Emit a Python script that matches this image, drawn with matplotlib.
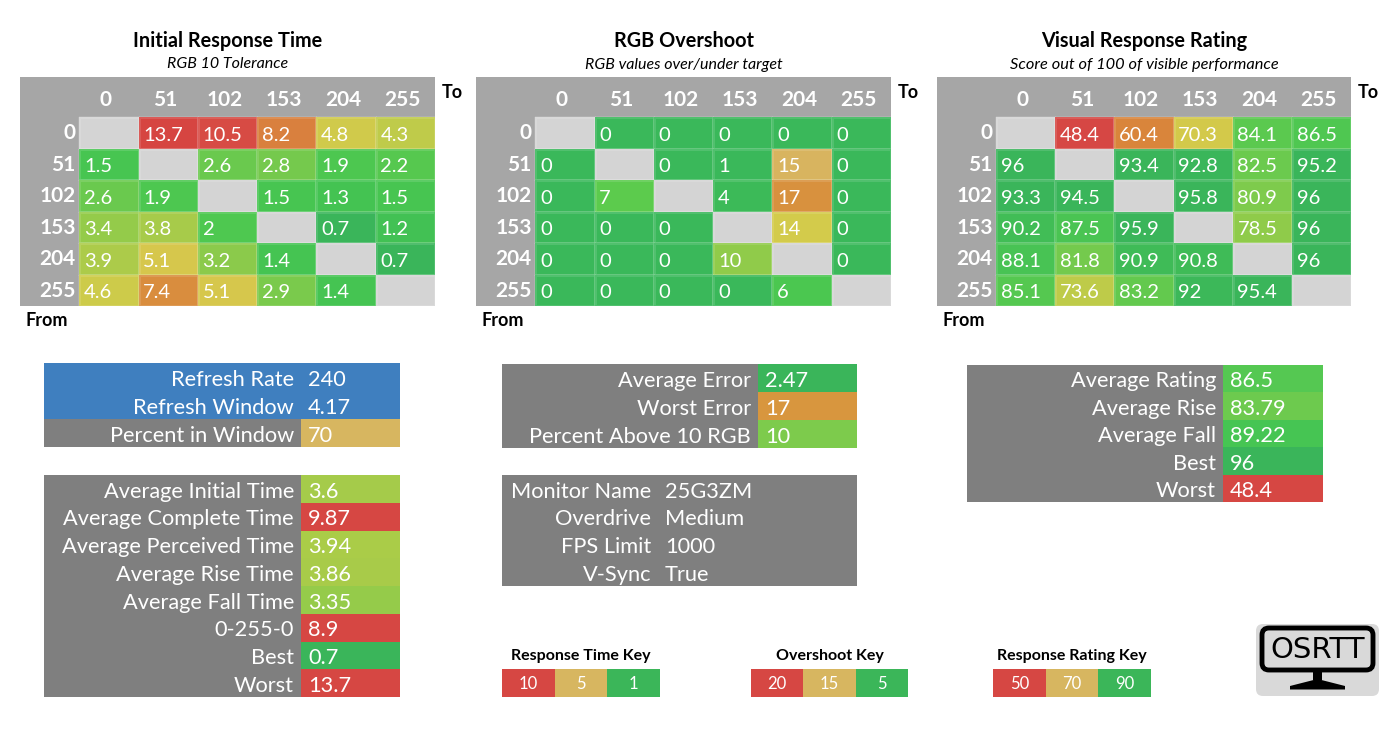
import numpy as np
import matplotlib
matplotlib.use("Agg")
import matplotlib.pyplot as plt
from matplotlib.colors import LinearSegmentedColormap, Normalize
from matplotlib.patches import FancyBboxPatch, Polygon, Rectangle

W, H = 1394, 741
plt.rcParams['font.family'] = ['Lato', 'DejaVu Sans']

# ---- data ----
levels = ["0", "51", "102", "153", "204", "255"]
nan = np.nan

initial_time = [
    [nan, 13.7, 10.5, 8.2, 4.8, 4.3],
    [1.5, nan, 2.6, 2.8, 1.9, 2.2],
    [2.6, 1.9, nan, 1.5, 1.3, 1.5],
    [3.4, 3.8, 2, nan, 0.7, 1.2],
    [3.9, 5.1, 3.2, 1.4, nan, 0.7],
    [4.6, 7.4, 5.1, 2.9, 1.4, nan],
]
overshoot = [
    [nan, 0, 0, 0, 0, 0],
    [0, nan, 0, 1, 15, 0],
    [0, 7, nan, 4, 17, 0],
    [0, 0, 0, nan, 14, 0],
    [0, 0, 0, 10, nan, 0],
    [0, 0, 0, 0, 6, nan],
]
rating = [
    [nan, 48.4, 60.4, 70.3, 84.1, 86.5],
    [96, nan, 93.4, 92.8, 82.5, 95.2],
    [93.3, 94.5, nan, 95.8, 80.9, 96],
    [90.2, 87.5, 95.9, nan, 78.5, 96],
    [88.1, 81.8, 90.9, 90.8, nan, 96],
    [85.1, 73.6, 83.2, 92, 95.4, nan],
]

refresh_labels = ["Refresh Rate", "Refresh Window", "Percent in Window"]
refresh_values = ["240", "4.17", "70"]

time_labels = ["Average Initial Time", "Average Complete Time", "Average Perceived Time",
               "Average Rise Time", "Average Fall Time", "0-255-0", "Best", "Worst"]
time_values = ["3.6", "9.87", "3.94", "3.86", "3.35", "8.9", "0.7", "13.7"]

error_labels = ["Average Error", "Worst Error", "Percent Above 10 RGB"]
error_values = ["2.47", "17", "10"]

info_labels = ["Monitor Name", "Overdrive", "FPS Limit", "V-Sync"]
info_values = ["25G3ZM", "Medium", "1000", "True"]

rating_labels = ["Average Rating", "Average Rise", "Average Fall", "Best", "Worst"]
rating_values = ["86.5", "83.79", "89.22", "96", "48.4"]

rt_key = ["10", "5", "1"]
os_key = ["20", "15", "5"]
vr_key = ["50", "70", "90"]

# ---- colours ----
GREY = "#7f7f7f"
HDR = "#a6a6a6"
DIAG = "#d4d4d4"
BLUE = "#3f7fbf"
RED = "#d64743"
TAN = "#d7b660"
GREEN = "#3bb659"
KEY_COLORS = [RED, TAN, GREEN]


def scale(stops):
    lo, hi = stops[0][0], stops[-1][0]
    pts = [((v - lo) / (hi - lo), tuple(c / 255 for c in rgb)) for v, rgb in stops]
    cm = LinearSegmentedColormap.from_list("s", pts)
    cm.set_bad(DIAG)
    return cm, Normalize(lo, hi)


rt_cmap = scale([(0.7, (58, 181, 90)), (1.3, (68, 196, 82)), (2.0, (78, 200, 80)),
                 (2.7, (112, 201, 77)), (3.4, (150, 203, 74)), (4.6, (205, 203, 74)),
                 (5.2, (216, 198, 76)), (7.4, (217, 140, 62)), (8.2, (217, 128, 62)),
                 (10.0, (215, 76, 68)), (14.0, (214, 69, 65))])
os_cmap = scale([(0, (58, 184, 90)), (5, (60, 186, 88)), (6, (76, 200, 80)),
                 (7, (92, 203, 77)), (10, (143, 203, 74)), (14, (211, 204, 74)),
                 (15, (216, 181, 96)), (17, (216, 145, 62)), (20, (214, 69, 65))])
vr_cmap = scale([(48.4, (214, 71, 68)), (60.4, (217, 133, 59)), (70.3, (211, 201, 74)),
                 (73.6, (190, 203, 73)), (78.5, (143, 203, 74)), (81, (125, 203, 76)),
                 (84, (91, 201, 79)), (87, (76, 198, 82)), (90, (65, 190, 86)),
                 (93, (58, 181, 90)), (96, (58, 181, 90))])

fig = plt.figure(figsize=(W / 100, H / 100), dpi=100)
fig.patch.set_facecolor("white")


def px_axes(x0, y0, x1, y1):
    ax = fig.add_axes([x0 / W, 1 - y1 / H, (x1 - x0) / W, (y1 - y0) / H])
    ax.set_xticks([])
    ax.set_yticks([])
    for s in ax.spines.values():
        s.set_visible(False)
    return ax


def ftext(x, y, s, **kw):
    fig.text(x / W, 1 - y / H, s, **kw)


def heatmap(x0, x1, values, cm, title, subtitle, sub_size):
    cmap, norm = cm
    ax = px_axes(x0, 77, x1, 306)
    ax.set_facecolor(HDR)
    data = np.ma.masked_invalid(np.array(values, dtype=float))
    edges = np.arange(len(levels) + 1) - 0.5
    ax.pcolormesh(edges, edges, data, cmap=cmap, norm=norm,
                  edgecolors=(1, 1, 1, 0.12), linewidth=0.8)
    head = 40 / 31.5
    ax.set_xlim(-1.5, 5.5)
    ax.set_ylim(5.5, -0.5 - head)
    for i, lab in enumerate(levels):
        ax.text(i - 0.05, -0.5 - head / 2 + 0.1, lab, ha="center", va="center",
                color="white", fontsize=15, fontweight="bold")
        ax.text(-0.56, i + 0.02, lab, ha="right", va="center",
                color="white", fontsize=15, fontweight="bold")
        for j in range(len(levels)):
            v = values[i][j]
            if not np.isnan(v):
                ax.text(j - 0.42, i + 0.08, f"{v:g}", ha="left", va="center",
                        color="white", fontsize=14.5)
    cx = (x0 + x1) / 2
    ftext(cx, 41, title, ha="center", va="center", fontsize=14.3, fontweight="bold")
    ftext(cx, 64.5, subtitle, ha="center", va="center", fontsize=sub_size, style="italic")
    ftext(x1 + 17, 93, "To", ha="center", va="center", fontsize=13, fontweight="bold")
    ftext(x0 + 27, 320, "From", ha="center", va="center", fontsize=13, fontweight="bold")


heatmap(20, 435, initial_time, rt_cmap, "Initial Response Time", "RGB 10 Tolerance", 11.5)
heatmap(476, 891, overshoot, os_cmap, "RGB Overshoot", "RGB values over/under target", 11.5)
heatmap(937, 1351, rating, vr_cmap, "Visual Response Rating",
        "Score out of 100 of visible performance", 11.8)


def table(x0, xs, x1, y0, y1, labels, values, label_colors, value_colors, gap=7):
    n = len(labels)
    ax = px_axes(x0, y0, x1, y1)
    rows = np.arange(n)
    ax.barh(rows, xs - x0, left=0, height=1.0, color=label_colors, linewidth=0)
    ax.barh(rows, x1 - xs, left=xs - x0, height=1.0, color=value_colors, linewidth=0)
    ax.set_xlim(0, x1 - x0)
    ax.set_ylim(n - 0.5, -0.5)
    for r in rows:
        ax.text(xs - x0 - gap, r + 0.1, labels[r], ha="right", va="center",
                color="white", fontsize=15.7)
        ax.text(xs - x0 + gap, r + 0.1, values[r], ha="left", va="center",
                color="white", fontsize=15.7)


table(44, 301, 400, 363, 447, refresh_labels, refresh_values,
      [BLUE, BLUE, GREY], [BLUE, BLUE, TAN])
table(44, 301, 400, 475, 697, time_labels, time_values, [GREY] * 8,
      ["#a5cb4a", RED, "#aacc48", "#a8cb49", "#95cb4a", RED, "#3ab55a", RED])
table(502, 758, 857, 364, 448, error_labels, error_values, [GREY] * 3,
      ["#3ab55a", "#d8963e", "#7dcb4c"])
table(502, 658, 857, 475, 586, info_labels, info_values, [GREY] * 4, [GREY] * 4)
table(967, 1223, 1323, 365, 502, rating_labels, rating_values, [GREY] * 5,
      ["#55c852", "#6dca4e", "#46c553", "#3ab55a", RED])


def key(x0, x1, title, labels):
    ax = px_axes(x0, 669, x1, 697)
    n = len(labels)
    ax.bar(np.arange(n), 1, width=1.0, color=KEY_COLORS[:n], linewidth=0)
    ax.set_xlim(-0.5, n - 0.5)
    ax.set_ylim(0, 1)
    for i, lab in enumerate(labels):
        ax.text(i, 0.45, lab, ha="center", va="center", color="white", fontsize=12)
    ftext((x0 + x1) / 2, 656, title, ha="center", va="center",
          fontsize=11.5, fontweight="bold")


key(502, 660, "Response Time Key", rt_key)
key(751, 908, "Overshoot Key", os_key)
key(993, 1151, "Response Rating Key", vr_key)

# OSRTT logo
lg = px_axes(1254, 622, 1381, 698)
lg.set_xlim(0, 127)
lg.set_ylim(76, 0)
lg.patch.set_alpha(0)
lg.add_patch(FancyBboxPatch((2, 2), 123, 72, boxstyle="round,pad=0,rounding_size=7",
                            facecolor="#d9d9d9", edgecolor="none"))
lg.add_patch(FancyBboxPatch((8, 6), 111, 42, boxstyle="round,pad=0,rounding_size=7",
                            facecolor="none", edgecolor="black", linewidth=3.5))
lg.text(63.5, 28, "OSRTT", ha="center", va="center", fontsize=21,
        family="DejaVu Sans", color="black")
lg.add_patch(Rectangle((59, 48), 9, 10, facecolor="black"))
lg.add_patch(Polygon([[36, 64], [63.5, 57], [91, 64], [91, 67.5], [36, 67.5]],
                     closed=True, facecolor="black"))

fig.savefig("out.png", dpi=100, facecolor="white")
